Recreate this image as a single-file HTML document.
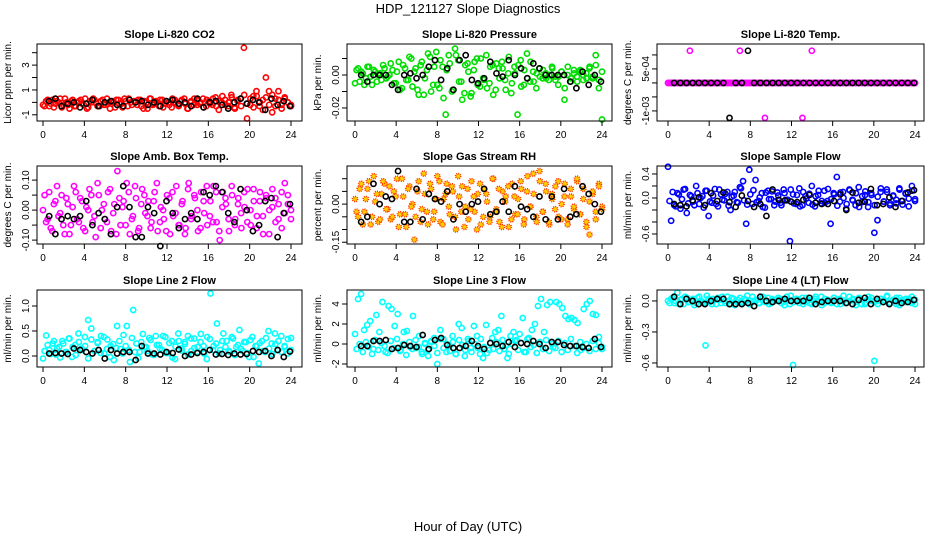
<!DOCTYPE html>
<html><head><meta charset="utf-8"><style>
html,body{margin:0;padding:0;background:#fff}
svg{display:block;font-family:"Liberation Sans",sans-serif}
</style></head><body>
<svg id="chart" width="936" height="540" viewBox="0 0 936 540">
<rect width="936" height="540" fill="#fff"/>
<text x="468" y="13" text-anchor="middle" font-size="13">HDP_121127  Slope Diagnostics</text>
<text x="468" y="531" text-anchor="middle" font-size="13">Hour of Day (UTC)</text>
</svg>
<script>
const xTicks=[0,4,8,12,16,20,24];
const co2Vals=[-0.2,0.1,-0.3,0.2,-0.1,0.0,-0.4,0.3,-0.2,0.1,-0.3,0.0,0.2,-0.2,-0.5,0.1,0.3,-0.1,-0.3,0.2,-0.2,0.0,0.1,-0.4,0.2,-0.1,0.3,-0.3,0.0,0.1,-0.2,0.2,-0.5,0.0,0.3,-0.2,0.1,-0.3,0.2,-0.1,0.0,-0.4,0.2,-0.2,0.1,0.3,-0.5,0.0,-0.2,0.2,-0.1,0.3,-0.3,0.1,-0.2,0.4,-0.6,0.0,0.2,-0.3,0.6,-0.4,0.1,0.3,4.4,-1.3,-0.2,0.5,0.9,-0.3,0.2,2.0,0.9,-0.8,0.3,0.9,-0.2,0.4,0.0,-0.3];
const co2ValsB=[-0.3,0.2,-0.1,-0.4,0.1,0.3,-0.2,0.0,-0.5,0.2,-0.3,0.1,-0.1,0.3,-0.4,0.0,0.2,-0.3,0.1,-0.2,0.3,-0.5,0.0,0.2,-0.1,-0.4,0.1,0.3,-0.2,0.0,0.2,-0.3,0.1,-0.5,0.3,-0.1,0.0,0.2,-0.4,0.1,-0.2,0.3,0.0,-0.3,0.2,-0.1,-0.5,0.1,0.3,-0.2,0.0,-0.4,0.2,-0.1,0.3,-0.3,0.1,0.5,-0.2,0.0,0.4,-0.5,0.2,-0.3,0.6,-0.1,0.3,-0.4,0.5,0.0,-0.6,0.4,-0.2,0.6,-0.3,0.2,-0.5,0.3,0.0,-0.2];
const co2Black=[0.1,0.3,-0.3,-0.1,0.0,-0.4,-0.1,0.2,-0.3,0.0,0.1,-0.2,-0.3,0.2,0.0,0.1,-0.2,0.0,-0.3,0.1,0.2,-0.1,0.0,-0.3,0.3,-0.4,0.0,0.1,-0.2,-0.5,0.0,0.3,-0.1,0.2,0.0,-0.6,0.3,-0.2,0.1,-0.3];
const presVals=[-5,4,2,-6,5,-1,3,-4,1,6,-2,0,3,-5,8,-8,4,-3,10,2,-9,6,-12,3,11,-6,14,-8,5,-24,12,-10,16,9,-4,-11,7,-13,3,10,-7,-2,12,-5,6,-9,4,8,-3,1,-11,5,-24,9,-6,13,-4,2,-8,4,-2,1,-3,5,-1,-6,2,-15,0,-4,3,-1,2,-3,1,4,-2,12,-8,-27];
const presValsB=[3,-4,1,-2,5,-6,2,0,-3,4,-1,7,-5,2,-9,6,-3,11,-7,4,-12,8,-2,13,-10,5,-6,9,-14,3,7,-9,12,-4,-15,6,2,-11,8,-6,10,-3,-8,5,-12,7,-2,4,-9,11,-5,1,6,-7,3,-2,8,-4,1,-1,3,-2,0,4,-3,-1,2,-8,5,-2,1,-4,3,0,-2,5,-1,6,-3,2];
const presBlack=[0,-4,0,0,0,-6,-9,0,1,-2,0,5,9,-3,4,-9,9,12,-3,-5,-2,8,1,-1,9,0,4,-2,7,4,0,0,0,0,-4,-8,2,-6,0,-4];
const tempVals=[0,0,0,0,0,0,0,11.5,0,0,0,0,0,0,0,0,0,0,0,0,0,0,0,11.5,0,0,0,0,0,0,0,-12.5,0,0,0,0,0,0,0,0,0,0,0,-12.5,0,0,11.5,0,0,0,0,0,0,0,0,0,0,0,0,0,0,0,0,0,0,0,0,0,0,0,0,0,0,0,0,0,0,0,0,0];
const tempValsB=[0,0,0,0,0,0,0,0,0,0,0,0,0,0,0,0,0,0,0,0,0,0,0,0,0,0,0,0,0,0,0,0,0,0,0,0,0,0,0,0,0,0,0,0,0,0,0,0,0,0,0,0,0,0,0,0,0,0,0,0,0,0,0,0,0,0,0,0,0,0,0,0,0,0,0,0,0,0,0,0];
const tempBlack=[0,0,0,0,0,0,0,0,0,-12.5,0,0,11.5,0,0,0,0,0,0,0,0,0,0,0,0,0,0,0,0,0,0,0,0,0,0,0,0,0,0,0];
const ambVals=[0,-4,6,-7,3,-2,5,-8,2,-5,8,-3,4,-6,1,7,-4,-9,5,0,-3,6,-7,2,13,-5,3,9,-8,-2,4,-6,7,-1,3,-4,6,-7,1,-3,5,-8,-2,8,-5,3,-6,9,-2,4,-7,6,-1,-5,3,8,-4,-10,6,2,-7,5,-3,4,-6,1,7,-5,3,-2,6,-8,4,0,7,-4,2,-6,9,5,-3];
const ambValsB=[5,-3,-6,2,8,-1,-5,4,-8,1,6,-4,3,-7,0,5,-2,9,-6,2,-4,7,-1,-8,4,1,-5,6,-3,8,-7,2,5,-2,-6,3,9,-4,0,-7,4,6,-1,-5,2,-8,7,-3,5,0,-6,3,8,-2,-4,6,-7,1,4,-3,8,-5,2,-1,6,-4,0,7,-6,3,-2,5,-8,1,4,-3,6,-1,2,0];
const ambBlack=[-2,-8,-3,-2,-3,-2,3,-5,-1,-3,-8,1,8,1,-9,-9,1,-1,-12,3,-1,-6,-3,-1,-3,6,5,8,6,-1,-4,7,0,-7,-5,3,4,-9,-1,2];
const rhVals=[2,-5,8,-3,6,-8,11,4,-6,9,-2,7,-5,3,-9,10,-4,6,-1,-14,5,-7,12,-3,8,-6,2,9,-8,4,-1,7,-5,11,-3,-9,6,-2,3,-10,8,-5,4,-7,10,-3,6,-9,1,7,-6,3,-4,9,-8,5,-1,12,-5,13,-3,8,-7,4,-2,9,-6,3,-8,6,-1,10,-4,2,-7,-12,5,-3,7,-2];
const rhValsB=[-3,6,-8,2,9,-5,1,-7,4,8,-2,-6,5,10,-4,3,-9,7,0,-5,9,-2,4,-8,6,-3,11,-7,2,8,-4,5,-10,3,7,-1,-6,9,-3,4,-8,6,1,-5,10,-2,-7,5,3,-9,8,-4,2,6,-6,11,-1,4,-7,9,-3,5,-8,2,7,-5,0,8,-6,3,-2,9,-4,6,-9,1,4,-6,8,-1];
const rhBlack=[-7,-5,8,0,3,2,13,-7,-7,6,-6,4,2,1,5,-6,0,-3,0,1,6,-4,-3,1,-3,7,-1,-2,-5,3,-6,3,-6,6,-5,-4,7,4,0,-3];
const flowVals=[52,-38,-12,8,-18,14,-25,5,-6,20,-10,3,12,-30,-8,15,-14,6,-4,10,-20,4,-7,18,28,-43,47,-10,30,-5,8,-16,12,-2,-12,9,-8,14,-4,-72,6,-10,16,-12,3,-8,20,-14,5,-9,12,-5,-43,8,35,-6,10,-18,14,-3,-12,18,-7,5,-15,8,-58,-37,10,-6,14,-12,3,-9,16,-5,8,-14,20,-2];
const flowValsB=[-5,10,-14,6,-2,15,-9,3,-12,8,0,-16,12,-6,4,-10,14,-3,7,-13,2,10,-8,16,-4,-11,6,13,-7,1,-15,9,-2,11,-6,4,-12,8,-3,14,-9,5,-14,10,-1,7,-11,3,12,-5,-8,15,-2,6,-13,9,0,-10,13,-4,8,-15,3,11,-7,5,-12,2,16,-6,10,-9,4,-3,14,-11,7,-1,12,-5];
const flowBlack=[-10,-12,-14,-4,1,-12,8,-5,9,-7,-15,4,-5,-15,-10,-30,14,-3,-4,-6,-7,-3,5,-8,-10,-10,-5,6,-20,9,-8,-6,15,-12,-10,1,-15,-5,9,13];
const l2Vals=[-5,41,12,25,3,18,30,8,35,-2,22,45,15,38,72,55,10,28,40,5,33,20,-8,60,14,42,60,-12,92,25,8,44,18,36,3,40,22,12,38,6,30,-6,45,15,28,40,10,35,18,44,5,38,125,20,65,12,45,30,8,35,18,52,10,28,-2,38,20,-15,30,8,50,25,45,12,40,20,5,36];
const l2ValsB=[10,22,4,30,15,-3,25,8,35,18,2,28,12,20,-5,33,10,26,6,38,14,-2,24,16,30,5,20,12,36,8,-4,28,18,10,32,2,22,15,40,6,26,-3,19,30,11,24,3,35,16,8,28,20,-6,34,12,25,5,30,18,10,38,2,22,14,28,6,32,-2,20,26,10,36,15,4,24,30,8,18,34,12];
const l2Black=[5,6,5,4,15,12,8,5,12,-5,12,5,8,8,-8,20,5,5,3,8,6,13,0,3,6,8,12,3,4,2,5,3,4,10,8,10,0,12,-2,9];
const l3Vals=[10,45,50,14,19,23,-5,29,12,42,-8,38,35,18,30,-6,12,13,-3,28,-4,8,-10,0,-12,2,6,-20,14,5,-8,-2,8,-10,20,16,-12,5,-4,18,8,-10,-14,19,-6,6,12,14,28,-5,-14,8,12,4,10,26,-8,6,14,20,38,45,12,39,42,-3,42,40,36,28,25,26,24,21,-6,35,40,43,30,29,7,-5];
const l3ValsB=[-5,0,-8,2,-3,-10,4,-6,1,-2,-9,3,-4,5,-7,0,-11,2,-5,4,-3,-8,1,-6,3,-2,-9,5,-4,0,-7,2,-10,4,-1,-6,3,-8,0,-4,5,-3,-9,1,-5,2,-7,4,-2,-10,0,3,-6,1,-8,5,-3,-1,-9,2,-5,4,-7,0,-4,3,-8,1,-6,5,-2,-9,2,-4,0,-7,3,-5,1,-3];
const l3Black=[-2,-2,3,3,4,-5,-4,-1,-2,-3,9,-5,4,6,-1,-4,-4,-2,3,-2,-5,1,0,-2,2,-3,1,0,3,0,-4,2,2,-1,-2,-2,-3,-4,5,-3];
const l4Vals=[0,2,-2,8,1,-3,3,-1,2,-2,4,-1,-43,2,-3,1,3,-2,0,4,-3,2,-1,3,-2,1,-3,4,0,-2,2,-1,3,-2,1,1,2,-1,4,-3,-62,2,-2,3,-1,1,-3,2,0,4,-2,1,-1,3,-3,2,0,-2,4,1,-1,2,-3,-3,1,3,-58,0,2,-1,4,-2,1,-3,3,0,-1,2,-2,1];
const l4ValsB=[-2,3,0,-3,2,4,-1,1,-4,3,0,-2,5,-1,2,-3,1,4,-2,0,3,-4,1,-1,2,5,-3,0,1,-2,4,-1,-3,2,0,3,-2,-4,1,5,-1,2,0,-3,3,-2,1,4,-1,-4,2,0,-2,3,1,-3,5,-1,0,2,-4,3,1,-2,4,0,-1,-3,2,1,5,-2,0,3,-4,1,2,-1,4,-3];
const l4Black=[4,-3,2,0,-3,-3,0,2,2,-3,-3,-3,-2,-5,4,0,-1,0,2,0,0,0,3,-3,-1,0,0,0,-2,-3,1,3,-3,2,-1,-3,0,-2,-1,1];

const NS='http://www.w3.org/2000/svg';
const svg=document.getElementById('chart');
const cols=[{l:37,r:302,x0:43,x24:291},{l:347,r:612,x0:355,x24:602},{l:657,r:924,x0:668,x24:915}];
const rows=[{t:44,b:121},{t:166,b:244},{t:290,b:367}];
const panels=[
 {id:'co2',title:'Slope Li-820 CO2',ylab:'Licor ppm per min.',c:0,r:0,top:4.7,bot:-1.5,ticks:[-1,0,1,2,3,4],labs:{'-1':'-1','1':'1','3':'3'},vals:co2Vals,valsB:co2ValsB,blk:co2Black,color:'#ff0000'},
 {id:'pressure',title:'Slope Li-820 Pressure',ylab:'kPa per min.',c:1,r:0,top:18.8,bot:-27.9,ticks:[-20,-10,0,10],labs:{'-20':'-0.02','0':'0.00'},vals:presVals,valsB:presValsB,blk:presBlack,color:'#00dd00'},
 {id:'temp',title:'Slope Li-820 Temp.',ylab:'degrees C per min.',c:2,r:0,top:13.9,bot:-13.6,ticks:[-10,-5,0,5,10],labs:{'-10':'-1e-03','5':'5e-04'},vals:tempVals,valsB:tempValsB,blk:tempBlack,color:'#ff00ff'},
 {id:'amb-temp',title:'Slope Amb. Box Temp.',ylab:'degrees C per min.',c:0,r:1,top:14.7,bot:-11.3,ticks:[-10,-5,0,5,10],labs:{'-10':'-0.10','0':'0.00','10':'0.10'},vals:ambVals,valsB:ambValsB,blk:ambBlack,color:'#ff00ff'},
 {id:'rh',title:'Slope Gas Stream RH',ylab:'percent per min.',c:1,r:1,top:15,bot:-15.7,ticks:[-15,-10,-5,0,5,10],labs:{'-15':'-0.15','0':'0.00'},vals:rhVals,valsB:rhValsB,blk:rhBlack,color:'#ffcc00',stroke2:'#ff3300'},
 {id:'sample-flow',title:'Slope Sample Flow',ylab:'ml/min per min.',c:2,r:1,top:53.3,bot:-76.7,ticks:[-60,-40,-20,0,20,40],labs:{'-60':'-0.6','0':'0.0','40':'0.4'},vals:flowVals,valsB:flowValsB,blk:flowBlack,color:'#0000ff'},
 {id:'line2',title:'Slope Line 2 Flow',ylab:'ml/min per min.',c:0,r:2,top:132,bot:-22,ticks:[0,50,100],labs:{'0':'0.0','50':'0.5','100':'1.0'},vals:l2Vals,valsB:l2ValsB,blk:l2Black,color:'#00ffff'},
 {id:'line3',title:'Slope Line 3 Flow',ylab:'ml/min per min.',c:1,r:2,top:54,bot:-23,ticks:[-20,0,20,40],labs:{'-20':'-2','0':'0','20':'2','40':'4'},vals:l3Vals,valsB:l3ValsB,blk:l3Black,color:'#00ffff'},
 {id:'line4',title:'Slope Line 4 (LT) Flow',ylab:'ml/min per min.',c:2,r:2,top:10.6,bot:-63.9,ticks:[-60,-30,0],labs:{'-60':'-0.6','-30':'-0.3','0':'0.0'},vals:l4Vals,valsB:l4ValsB,blk:l4Black,color:'#00ffff'}
];
function mk(tag,attrs,parent){const e=document.createElementNS(NS,tag);for(const k in attrs)e.setAttribute(k,attrs[k]);(parent||svg).appendChild(e);return e;}
panels.forEach(p=>{
 const C=cols[p.c],R=rows[p.r];
 const g=mk('g',{});
 
 
 const xs=h=>C.x0+(h/24)*(C.x24-C.x0);
 const ys=v=>R.t+(p.top-v)/(p.top-p.bot)*(R.b-R.t);
 const t=mk('text',{x:(C.l+C.r)/2,y:R.t-6,'text-anchor':'middle','font-size':'11','font-weight':'bold'},g);t.textContent=p.title;
 
 
 const yt=mk('text',{transform:`translate(${C.l-26},${(R.t+R.b)/2}) rotate(-90)`,'text-anchor':'middle','font-size':'10'},g);yt.textContent=p.ylab;
 
 
 const drawSet=(arr,off)=>{
  const n=arr.length;
  arr.forEach((v,i)=>{
   const c=mk('circle',{cx:xs(off+i*(24-off)/(n-1)),cy:ys(v),r:2.6,fill:p.stroke2?p.color:'none',stroke:p.stroke2||p.color,'stroke-width':1.6,'stroke-dasharray':p.stroke2?'1 1':'none'},g);
   
   
  });
 };
 drawSet(p.valsB,0.15);
 drawSet(p.vals,0);
 const m=p.blk.length;
 p.blk.forEach((v,i)=>{
  const c=mk('circle',{cx:xs(0.6+i*23.3/(m-1)),cy:ys(v),r:2.6,fill:'none',stroke:'#000','stroke-width':1.6},g);
  
  
 });
 const box=mk('rect',{x:C.l,y:R.t,width:C.r-C.l,height:R.b-R.t,fill:'none',stroke:'#000','stroke-width':1},g);
 
 
 xTicks.forEach(h=>{
  mk('line',{x1:xs(h),x2:xs(h),y1:R.b,y2:R.b+5,stroke:'#000'},g);
  const tx=mk('text',{x:xs(h),y:R.b+17,'text-anchor':'middle','font-size':'10'},g);tx.textContent=h;
  
  
 });
 p.ticks.forEach(v=>{
  mk('line',{x1:C.l-5,x2:C.l,y1:ys(v),y2:ys(v),stroke:'#000'},g);
  if(p.labs[String(v)]!==undefined){
   const ty=mk('text',{transform:`translate(${C.l-8},${ys(v)}) rotate(-90)`,'text-anchor':'middle','font-size':'10'},g);ty.textContent=p.labs[String(v)];
   
   
  }
 });
});
</script>
</body></html>
